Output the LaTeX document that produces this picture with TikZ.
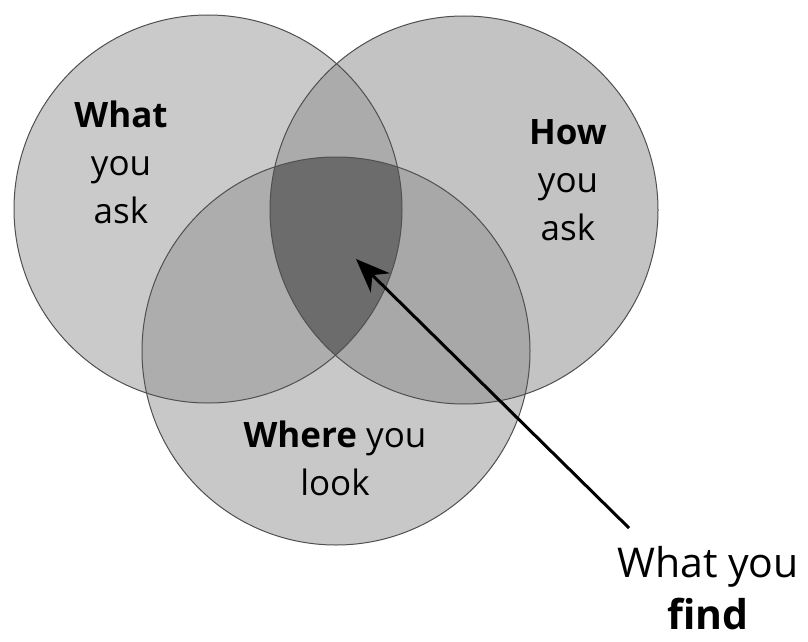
\documentclass[tikz,border=0pt]{standalone}
\usepackage{fontspec}
\setmainfont{Open Sans}
\usetikzlibrary{arrows.meta}
\definecolor{cA}{HTML}{CACACA}
\definecolor{cB}{HTML}{C3C3C3}
\definecolor{cC}{HTML}{C8C8C8}
\definecolor{cAB}{HTML}{ABABAB}
\definecolor{cAC}{HTML}{ADADAD}
\definecolor{cBC}{HTML}{A8A8A8}
\definecolor{cABC}{HTML}{6C6C6C}
\definecolor{edge}{HTML}{505050}
\begin{document}
\begin{tikzpicture}[x=1pt,y=-1pt,
  lbl/.style={font=\fontsize{35}{48}\selectfont, align=center, inner sep=0pt, text=black},
  big/.style={font=\fontsize{41}{52}\selectfont, align=center, inner sep=0pt, text=black},
  ring/.style={draw=edge, line width=1pt}]
\useasboundingbox (0,0) rectangle (808,642);
\fill[white] (0,0) rectangle (808,642);
\coordinate (A) at (208,209);
\coordinate (B) at (464,210);
\coordinate (C) at (336,351);
\def\rr{194}
% single fills
\fill[cA] (A) circle (\rr);
\fill[cB] (B) circle (\rr);
\fill[cC] (C) circle (\rr);
% pairwise
\begin{scope}\clip (A) circle (\rr); \fill[cAB] (B) circle (\rr);\end{scope}
\begin{scope}\clip (A) circle (\rr); \fill[cAC] (C) circle (\rr);\end{scope}
\begin{scope}\clip (B) circle (\rr); \fill[cBC] (C) circle (\rr);\end{scope}
\begin{scope}\clip (A) circle (\rr); \clip (B) circle (\rr); \fill[cABC] (C) circle (\rr);\end{scope}
% outlines
\draw[ring] (A) circle (\rr);
\draw[ring] (B) circle (\rr);
\draw[ring] (C) circle (\rr);
% labels (base anchor = baseline of last line)
\node[lbl, anchor=base] (what) at (121,223) {\textbf{What}\\you\\ask};
\node[lbl, anchor=base] (how) at (568,240) {\textbf{How}\\you\\ask};
\node[lbl, anchor=base] (where) at (335,495) {\textbf{Where} you\\look};
\node[big, anchor=base] (find) at (708,629) {What you\\\textbf{find}};
% arrow
\coordinate (tail) at (629,528);
\coordinate (tip) at (356,259);
\draw[line width=3pt, -{Stealth[length=34pt,width=27pt]}] (tail) -- (tip);
\end{tikzpicture}
\end{document}
